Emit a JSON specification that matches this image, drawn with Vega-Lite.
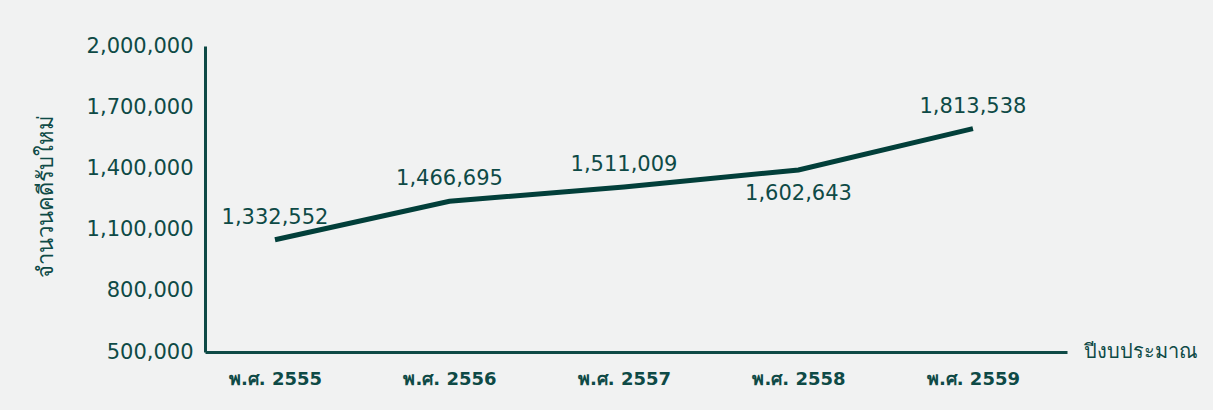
{
  "$schema": "https://vega.github.io/schema/vega-lite/v6.json",
  "width": 862,
  "height": 306,
  "autosize": "none",
  "padding": {"left": 205, "top": 46, "right": 146, "bottom": 58},
  "background": "#f1f2f2",
  "config": {
    "view": {"stroke": null},
    "font": "DejaVu Sans"
  },
  "data": {
    "values": [
      {"year": 2555, "count": 1332552, "drawn": 1050500},
      {"year": 2556, "count": 1466695, "drawn": 1239000},
      {"year": 2557, "count": 1511009, "drawn": 1309000},
      {"year": 2558, "count": 1602643, "drawn": 1392600},
      {"year": 2559, "count": 1813538, "drawn": 1595000}
    ]
  },
  "encoding": {
    "x": {
      "field": "year",
      "type": "quantitative",
      "scale": {"domain": [2554.599, 2559.539], "nice": false, "zero": false},
      "axis": {
        "values": [2555, 2556, 2557, 2558, 2559],
        "labelExpr": "'พ.ศ. ' + datum.value",
        "labelFontSize": 18,
        "labelFontWeight": "bold",
        "labelColor": "#0e4a46",
        "labelPadding": 18,
        "ticks": false,
        "grid": false,
        "domainColor": "#0e4a46",
        "domainWidth": 3,
        "title": "ปีงบประมาณ",
        "titleX": 878,
        "titleY": -1,
        "titleAlign": "left",
        "titleBaseline": "middle",
        "titleFontSize": 20,
        "titleFontWeight": "normal",
        "titleColor": "#0e4a46"
      }
    },
    "y": {
      "field": "drawn",
      "type": "quantitative",
      "scale": {"domain": [500000, 2000000], "nice": false, "zero": false},
      "axis": {
        "values": [500000, 800000, 1100000, 1400000, 1700000, 2000000],
        "format": ",d",
        "labelFontSize": 21,
        "labelColor": "#0e4a46",
        "labelPadding": 12,
        "ticks": false,
        "grid": false,
        "domainColor": "#0e4a46",
        "domainWidth": 3,
        "title": "จำนวนคดีรับใหม่",
        "titleX": -160,
        "titleY": 150,
        "titleAngle": -90,
        "titleAlign": "center",
        "titleBaseline": "middle",
        "titleFontSize": 22,
        "titleFontWeight": "normal",
        "titleColor": "#0e4a46"
      }
    }
  },
  "layer": [
    {
      "mark": {"type": "line", "color": "#023f3a", "strokeWidth": 5}
    },
    {
      "transform": [{"filter": "datum.year != 2558"}],
      "mark": {"type": "text", "fontSize": 21, "color": "#0e4a46", "dy": -22, "baseline": "middle"},
      "encoding": {"text": {"field": "count", "type": "quantitative", "format": ","}}
    },
    {
      "transform": [{"filter": "datum.year == 2558"}],
      "mark": {"type": "text", "fontSize": 21, "color": "#0e4a46", "dy": 24, "baseline": "middle"},
      "encoding": {"text": {"field": "count", "type": "quantitative", "format": ","}}
    }
  ]
}
